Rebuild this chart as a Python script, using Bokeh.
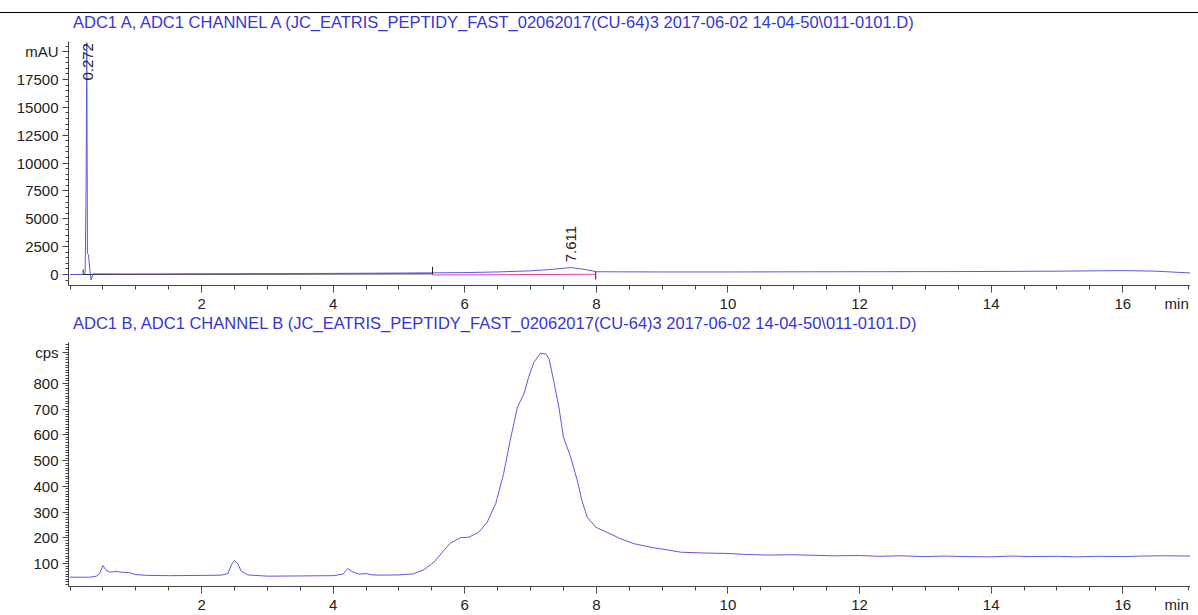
import math
from bokeh.plotting import figure
from bokeh.models import Range1d, FixedTicker, Label, LinearAxis, Div
from bokeh.layouts import column
from bokeh.embed import file_html
from bokeh.resources import INLINE

# ---------------- data ----------------
title_a = "ADC1 A, ADC1 CHANNEL A (JC_EATRIS_PEPTIDY_FAST_02062017(CU-64)3 2017-06-02 14-04-50\\011-0101.D)"
title_b = "ADC1 B, ADC1 CHANNEL B (JC_EATRIS_PEPTIDY_FAST_02062017(CU-64)3 2017-06-02 14-04-50\\011-0101.D)"

time_a = [0.0, 0.2, 0.23, 0.245, 0.255, 0.265, 0.28, 0.30, 0.32, 0.35, 0.5, 1.0, 2.0, 3.0,
          4.0, 5.0, 5.5, 6.0, 6.5, 7.0, 7.3, 7.611, 7.8, 8.0, 8.3, 9.0, 10.0, 11.0, 12.0,
          13.0, 14.0, 15.0, 16.0, 16.5, 17.05]
mau_a = [0, 0, 100, 8000, 20800, 1900, 1800, 500, -500, 60, 50, 40, 60, 80,
         100, 130, 150, 170, 230, 330, 450, 620, 480, 250, 240, 230, 230, 240, 250,
         260, 270, 300, 350, 300, 130]
peak_times_a = [0.272, 7.611]
peak_label_y_a = [17400, 1100]
baseline_t_a = [0.2, 5.51]
baseline_v_a = [0, 60]
int_base_t_a = [5.51, 7.99]
int_base_v_a = [-40, 20]

time_b = [0.0, 0.3, 0.4, 0.45, 0.5, 0.55, 0.6, 0.7, 0.8, 0.9, 1.0, 1.2, 1.5, 2.0, 2.3, 2.4,
          2.45, 2.5, 2.55, 2.6, 2.7, 3.0, 3.5, 4.0, 4.15, 4.22, 4.3, 4.4, 4.5, 4.6, 4.7,
          5.0, 5.22, 5.38, 5.53, 5.68, 5.78, 5.93, 6.06, 6.21, 6.34, 6.47, 6.59, 6.69,
          6.80, 6.90, 6.97, 7.05, 7.15, 7.23, 7.28, 7.35, 7.43, 7.50, 7.61, 7.71, 7.78,
          7.86, 7.99, 8.16, 8.37, 8.57, 8.87, 9.13, 9.28, 9.6, 10.0, 10.3, 10.6, 11.0,
          11.3, 11.6, 12.0, 12.3, 12.6, 13.0, 13.3, 13.6, 14.0, 14.3, 14.6, 15.0, 15.3,
          15.6, 16.0, 16.3, 16.6, 17.05]
cps_b = [48, 48, 52, 62, 93, 75, 68, 70, 67, 66, 58, 55, 54, 55, 56, 62,
         95, 113, 100, 72, 57, 52, 53, 54, 60, 82, 68, 60, 62, 57, 56,
         57, 61, 77, 106, 151, 180, 201, 203, 222, 261, 333, 449, 578,
         707, 759, 823, 881, 916, 914, 895, 811, 707, 591, 513, 423, 345,
         281, 242, 222, 197, 178, 162, 152, 145, 142, 140, 136, 134, 135,
         133, 131, 132, 129, 131, 128, 130, 128, 127, 130, 128, 129, 127,
         129, 128, 130, 131, 130]

x_major = [2, 4, 6, 8, 10, 12, 14, 16]
x_minor = [i * 0.5 for i in range(0, 35)]
x_unit_pos = 16.82
x_unit = "min"
ya_major = [0, 2500, 5000, 7500, 10000, 12500, 15000, 17500, 20000]
ya_minor = list(range(-500, 21000, 500))
yb_major = [100, 200, 300, 400, 500, 600, 700, 800, 920]
yb_minor = list(range(20, 960, 10))

# ---------------- style ----------------
FONT = "Liberation Sans"
TRACE = "#5a5ae0"
TITLE_C = "#3535d5"
TXT = "#222222"
AX = "#444444"
W = 1190


def title_div(text, height, pad_top, rule):
    parts = []
    if rule:
        parts.append('<div style="height:12px"></div>'
                     '<div style="width:1198px;border-top:1px solid #000;height:0"></div>')
    else:
        parts.append(f'<div style="height:{pad_top}px"></div>')
    parts.append(
        f'<div style="padding-left:73px;font-family:\'{FONT}\';font-size:16.5px;'
        f'line-height:18px;color:{TITLE_C};white-space:nowrap;">{text}</div>')
    return Div(text="".join(parts), width=1198, height=height, margin=0)


def style(p, ymaj, yminor, ylabel_key, ylabel_txt):
    p.xgrid.visible = False
    p.ygrid.visible = False
    p.outline_line_color = None
    p.background_fill_color = "white"
    p.border_fill_color = "white"
    # axis 1: all small tick marks
    xa = p.xaxis[0]
    xa.ticker = FixedTicker(ticks=[], minor_ticks=x_minor)
    xa.axis_line_color = AX
    xa.minor_tick_line_color = AX
    xa.minor_tick_in = 0
    xa.minor_tick_out = 4
    xa.major_tick_in = 0
    xa.major_tick_out = 0
    xa.major_label_standoff = 0
    # axis 2: extension of the major tick marks
    xm = LinearAxis(ticker=FixedTicker(ticks=[], minor_ticks=x_major))
    xm.axis_line_color = None
    xm.minor_tick_line_color = AX
    xm.minor_tick_in = 0
    xm.minor_tick_out = 3
    xm.major_tick_in = 0
    xm.major_tick_out = 0
    xm.major_label_standoff = 0
    p.add_layout(xm, "below")
    # axis 3: labels and unit, no marks
    xl = LinearAxis(ticker=FixedTicker(ticks=x_major + [x_unit_pos], minor_ticks=[]),
                    major_label_overrides={x_unit_pos: x_unit})
    xl.axis_line_color = None
    xl.major_tick_line_color = None
    xl.minor_tick_line_color = None
    xl.major_tick_out = 0
    xl.minor_tick_out = 0
    xl.major_tick_in = 0
    xl.minor_tick_in = 0
    xl.major_label_standoff = 2
    xl.major_label_text_font = FONT
    xl.major_label_text_font_size = "15px"
    xl.major_label_text_color = TXT
    p.add_layout(xl, "below")
    ya = p.yaxis[0]
    ya.ticker = FixedTicker(ticks=ymaj, minor_ticks=yminor)
    ya.major_label_overrides = {ylabel_key: ylabel_txt}
    ya.axis_line_color = AX
    ya.major_tick_line_color = AX
    ya.minor_tick_line_color = AX
    ya.major_tick_in = 0
    ya.minor_tick_in = 0
    ya.major_tick_out = 6
    ya.minor_tick_out = 3
    ya.major_label_standoff = 4
    ya.major_label_text_font = FONT
    ya.major_label_text_font_size = "15px"
    ya.major_label_text_color = TXT


# ---------------- top panel ----------------
p1 = figure(width=W, height=278, output_backend="svg", toolbar_location=None,
            x_range=Range1d(-0.023, 17.03), y_range=Range1d(-987, 20910),
            min_border_left=68, min_border_right=0, min_border_top=5, min_border_bottom=29)
style(p1, ya_major, ya_minor, 20000, "mAU")
p1.line(baseline_t_a, baseline_v_a, line_color="#222222", line_width=1)
p1.line(int_base_t_a, int_base_v_a, line_color="#e040c0", line_width=1)
p1.line(time_a, mau_a, line_color=TRACE, line_width=1)
p1.segment(x0=[0.2, 5.51, 7.99], y0=[0, 0, -450], x1=[0.2, 5.51, 7.99], y1=[450, 700, 250],
           line_color="#222222", line_width=1)
for t, yv in zip(peak_times_a, peak_label_y_a):
    p1.add_layout(Label(x=t, y=yv, text=f"{t:.3f}", angle=math.pi / 2, text_align="left",
                        text_baseline="middle", text_font=FONT, text_font_size="15px",
                        text_color=TXT))

# ---------------- bottom panel ----------------
p2 = figure(width=W, height=274, output_backend="svg", toolbar_location=None,
            x_range=Range1d(-0.023, 17.03), y_range=Range1d(12, 957.8),
            min_border_left=68, min_border_right=0, min_border_top=1, min_border_bottom=29)
style(p2, yb_major, yb_minor, 920, "cps")
p2.line(time_b, cps_b, line_color=TRACE, line_width=1)

head_a = title_div(title_a, 36, 0, True)
head_b = title_div(title_b, 27, 0, False)
layout = column(head_a, p1, head_b, p2, spacing=0)

open("out.html", "w").write(file_html(layout, INLINE))
